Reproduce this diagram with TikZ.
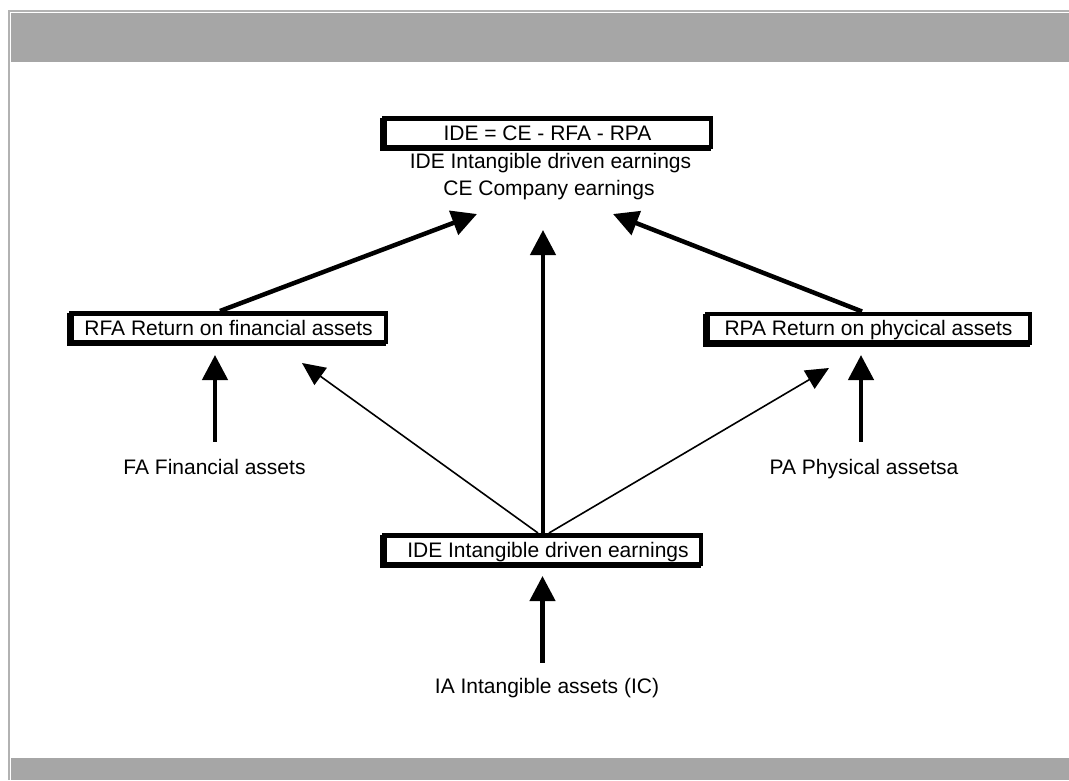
\documentclass[tikz,border=0pt]{standalone}
\usepackage{fontspec}
\setmainfont{Liberation Sans}
\usetikzlibrary{arrows.meta,shadows}
\definecolor{band}{RGB}{166,166,166}
\definecolor{frameg}{RGB}{178,178,178}
\begin{document}
\begin{tikzpicture}[x=1pt,y=-1pt,
  every node/.style={font=\fontsize{21pt}{25pt}\selectfont},
  box/.style={draw, line width=4.5pt, fill=white, inner sep=0pt,
    text height=15pt, text depth=0pt, minimum height=28.5pt,
    general shadow={shadow xshift=-2pt, shadow yshift=-2pt, draw=black, fill=black, line width=4.5pt}},
  lbl/.style={inner sep=0pt, text height=15pt, text depth=4pt, anchor=base},
  big/.style={line width=4.5pt, -{Triangle[length=25pt,width=25pt]}},
  thin/.style={line width=1.6pt, -{Triangle[length=23pt,width=21pt]}}]
\useasboundingbox (0,0) rectangle (1069,780);
% frame
\fill[band] (11,13) rectangle (1069,62);
\fill[band] (11,758) rectangle (1069,780);
\draw[frameg, line width=2.5pt] (8.8,780) |- (1069,11);
% boxes
\node[box, minimum width=326.5pt] (top) at (547.5,132.5) {IDE = CE - RFA - RPA};
\node[lbl] (sub1) at (550.5,168) {IDE Intangible driven earnings};
\node[lbl] (sub2) at (549,195) {CE Company earnings};
\node[box, minimum width=314.5pt] (rfa) at (228.5,327.5) {RFA Return on financial assets};
\node[box, minimum width=322.5pt] (rpa) at (868.5,328) {RPA Return on phycical assets};
\node[box, minimum width=316.5pt] (ide) at (542.5,549.5) {\hspace*{11pt}IDE Intangible driven earnings};
\node[lbl] (fa) at (214.5,474) {FA Financial assets};
\node[lbl] (pa) at (864,474) {PA Physical assetsa};
\node[lbl] (ia) at (547,693) {IA Intangible assets (IC)};
% arrow tips
\coordinate (t1) at (477,214);
\coordinate (t2) at (543,230);
\coordinate (t3) at (613,214);
\coordinate (t4) at (302,363);
\coordinate (t5) at (829,368);
% connectors
\draw[big] ([xshift=-8.5pt]rfa.north) -- (t1);
\draw[big] ([xshift=0.5pt]ide.north) -- (t2);
\draw[big] ([xshift=-6.5pt]rpa.north) -- (t3);
\draw[thin] ([xshift=-4.5pt]ide.north) -- (t4);
\draw[thin] ([xshift=6.5pt]ide.north) -- (t5);
\draw[big, shorten <=17pt, shorten >=11pt] ([xshift=0.5pt]fa.north) -- ([xshift=0.5pt]fa.north |- rfa.south);
\draw[big, shorten <=17pt, shorten >=10.5pt] ([xshift=-3pt]pa.north) -- ([xshift=-3pt]pa.north |- rpa.south);
\draw[big, shorten <=15pt, shorten >=10pt] ([xshift=-4.5pt]ia.north) -- ([xshift=-4.5pt]ia.north |- ide.south);
\end{tikzpicture}
\end{document}
